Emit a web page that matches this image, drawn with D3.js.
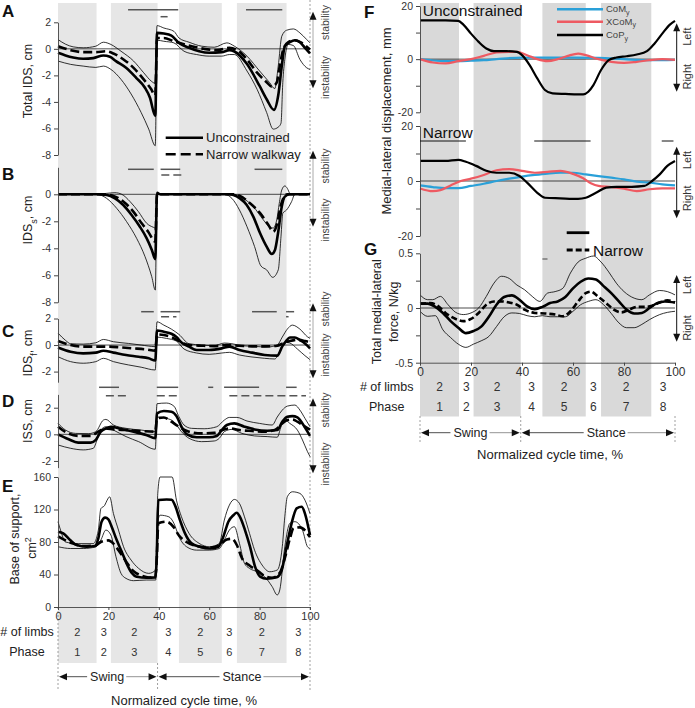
<!DOCTYPE html>
<html>
<head>
<meta charset="utf-8">
<script src="https://cdn.jsdelivr.net/npm/d3@7"></script>
<style>
body { margin: 0; background: #fff; }
text { font-family: "Liberation Sans", Arial, sans-serif; }
</style>
</head>
<body>
<div id="vis"></div>
<script>
const W = 695, H = 708;

// phases of the cycle (%), limb counts
const phaseEdges = [0, 15.3, 21, 39.5, 48, 65, 71, 90.7, 100];
const limbCounts = [2, 3, 2, 3, 2, 3, 2, 3];
const phaseNums = [1, 2, 3, 4, 5, 6, 7, 8];
const xTicks = [0, 20, 40, 60, 80, 100];

// --- A: total IDS, cm ---
const A_unc = [[0,-0.3],[3,-0.5],[6,-0.65],[10,-0.75],[14,-0.7],[18,-0.5],[20.6,-0.6],[23,-0.93],[27,-1.43],[31,-2.18],[34.5,-2.93],[36.5,-3.68],[38.6,-5.05],[39.3,1.2],[42,1.15],[45,1.0],[48,0.45],[52,0.08],[56,-0.18],[60,-0.3],[65,-0.25],[68,-0.1],[70,-0.2],[75,-1.15],[80,-2.8],[82.8,-3.8],[85.7,-4.6],[87.4,-3.5],[88.8,-1.3],[90,0.2],[92,0.5],[94,0.65],[96,0.5],[98,0.08],[100,-0.35]];
const A_nar = [[0,0.2],[5,-0.1],[10,-0.25],[15,-0.25],[19,-0.18],[22,-0.35],[26,-0.8],[30,-1.43],[34,-2.3],[37,-3.05],[38.6,-3.55],[39.3,0.82],[42,0.82],[46,0.57],[49,0.4],[53,0.2],[58,0],[63,-0.1],[68,0.07],[72.5,-0.3],[75,-0.8],[79,-1.8],[83,-2.55],[84.8,-2.85],[86.8,-2.55],[88,-1.3],[89.4,-0.05],[91.4,0.5],[94,0.65],[96.7,0.45],[100,-0.05]];
const A_upper = [[0,0.7],[3,0.35],[6,0.15],[10,0.08],[15,0.2],[18,0.5],[21,0.33],[25,-0.18],[30,-0.92],[34,-1.8],[37,-2.43],[38.5,-2.6],[39.3,1.75],[42,1.57],[46,1.32],[48,0.82],[52,0.5],[57,0.2],[62,0.12],[67,0.45],[70,0.2],[75,-0.55],[80,-1.67],[84,-2.55],[86,-3.0],[87.4,-1.3],[88.8,0.95],[90.7,1.4],[93.4,1.5],[96,1.2],[98.7,0.7],[100,0.45]];
const A_lower = [[0,-0.92],[5,-1.17],[10,-1.3],[15,-1.4],[18,-1.3],[21,-1.55],[25,-2.3],[29,-3.4],[33,-4.8],[36,-6.05],[38.6,-7.3],[39.3,0.65],[42,0.57],[46,0.45],[50,-0.18],[55,-0.43],[60,-0.55],[65,-0.55],[68,-0.43],[70,-0.43],[75,-1.67],[79,-3.05],[82.8,-4.8],[85.4,-6.05],[87.4,-5.9],[88.5,-5.6],[89.2,-2.55],[90,-0.8],[91.4,0.33],[93.4,0.25],[96,-0.8],[98.7,-1.43],[100,-1.55]];

// --- B: IDS_s, cm ---
const B_unc = [[0,0],[15,0],[19.3,-0.05],[22.6,-0.3],[25.9,-0.79],[29.2,-1.53],[32.5,-2.4],[35.2,-3.26],[37.2,-4.1],[38.6,-4.8],[39.3,0.12],[40.5,0],[68,0],[69.6,-0.05],[72.2,-0.3],[74.9,-0.79],[77.5,-1.65],[80.2,-2.89],[82.8,-3.88],[84.8,-4.42],[86.1,-4.12],[87.4,-2.77],[88.8,-0.91],[90,-0.17],[92,0],[100,0]];
const B_nar = [[0,0],[17,0],[22,-0.12],[25.9,-0.54],[29.9,-1.28],[33.2,-2.15],[35.8,-2.77],[38.6,-3.5],[39.3,0],[70,0],[72.2,-0.12],[76.2,-0.67],[80.2,-1.4],[83.5,-2.27],[85.4,-2.77],[87,-2.15],[88.3,-0.91],[89.4,-0.3],[91,0],[100,0]];
const B_upper = [[0,0],[15,0],[19.3,0.07],[22.6,0.12],[25.3,0],[28.6,-0.54],[31.9,-1.28],[35.2,-2.15],[37.8,-2.44],[38.7,-2.5],[39.3,0],[70,0],[73.5,-0.3],[77.5,-0.91],[81.5,-1.9],[84.1,-2.44],[85.4,-2.5],[86.8,-1.9],[87.8,-0.67],[88.8,0.32],[90,0.62],[91,0.44],[92,0.07],[93,0],[100,0]];
const B_lower = [[0,0],[15.3,0],[19.3,-0.3],[23.3,-1.04],[27.2,-2.02],[31.2,-3.26],[34.5,-4.6],[37.2,-6.1],[38.6,-7.09],[39.3,0],[66,0],[69,-0.3],[72,-1.16],[75,-2.4],[78,-3.87],[80.5,-5.3],[82.8,-5.6],[85.2,-6.15],[87.4,-5.6],[88.5,-3.1],[89.2,-1.4],[90.7,-1.16],[92.7,-0.54],[94,0],[100,0]];

// --- C: IDS_f, cm ---
const C_unc = [[0,-0.18],[5,-0.5],[10,-0.63],[15,-0.57],[18,-0.43],[22,-0.57],[27,-0.75],[32,-0.88],[36,-1.0],[38.6,-1.17],[39.3,1.1],[42,1.0],[45,0.85],[47,0.6],[49,0.2],[52,-0.12],[55,-0.37],[60,-0.37],[65,-0.25],[68,-0.12],[72,-0.37],[77,-0.57],[82,-0.75],[87,-0.8],[89,-0.1],[90.5,0.3],[92,0.57],[94,0.57],[96,0.37],[98,0.12],[100,-0.25]];
const C_nar = [[0,0.3],[5,0],[10,-0.12],[15,-0.12],[20,-0.12],[25,-0.18],[30,-0.25],[35,-0.33],[38.6,-0.43],[39.3,0.8],[42,0.75],[45,0.6],[48,0.3],[52,0],[57,-0.05],[62,-0.08],[67,0],[72,-0.05],[77,-0.1],[82,-0.1],[87,-0.05],[89,0.1],[92,0.3],[95,0.4],[98,0.3],[100,0.2]];
const C_upper = [[0,0.9],[3,0.35],[5,0.1],[10,0.07],[15,0.17],[18,0.42],[22,0.25],[28,0.12],[33,0],[38.6,-0.12],[39.3,1.75],[42,1.5],[45,1.2],[48,0.8],[52,0.1],[57,0],[62,-0.05],[66,0.15],[69,0.1],[73,-0.05],[78,-0.1],[83,-0.15],[87,0],[89,0.6],[91,1.2],[93,1.5],[96,1.2],[99,0.62],[100,0.5]];
const C_lower = [[0,-0.88],[5,-1.25],[10,-1.37],[15,-1.25],[18,-1.0],[22,-1.25],[28,-1.5],[33,-1.67],[38.6,-1.88],[39.3,0.6],[43,0.5],[47,0.3],[50,-0.3],[55,-0.6],[60,-0.7],[65,-0.6],[68,-0.55],[72,-0.75],[77,-0.9],[82,-1.0],[86,-1.05],[88,-0.5],[90,0.2],[92,0.15],[95,-0.3],[98,-0.8],[100,-1.1]];

// --- D: ISS, cm ---
const D_unc = [[0,0],[4,-0.35],[8,-0.62],[13,-0.62],[15,-0.42],[17,0.2],[19,0.45],[21,0.57],[25,0.4],[30,0.2],[35,-0.05],[38.6,-0.3],[39.3,1.57],[42,1.75],[45,1.7],[47,1.37],[49,0.57],[51,0.02],[55,-0.22],[60,-0.22],[63,-0.12],[65,0.32],[67,0.7],[70,0.82],[74,0.57],[78,0.37],[83,0.27],[87,0.32],[89,0.95],[91,1.32],[93,1.37],[95,1.27],[97,0.82],[99,0.2],[100,-0.12]];
const D_nar = [[0,0.57],[4,0.07],[8,-0.12],[13,-0.12],[16,0.2],[19,0.45],[22,0.37],[27,0.32],[33,0.25],[38.6,0.2],[39.3,1.2],[42,1.27],[45,0.95],[48,0.57],[52,0.2],[57,0.07],[62,0.12],[65,0.3],[68,0.45],[72,0.32],[77,0.25],[82,0.2],[86,0.32],[89,0.82],[91,1.07],[93,1.12],[95,0.95],[97,0.7],[100,0.35]];
const D_upper = [[0,0.82],[3,0.32],[7,0.07],[12,0.05],[15,0.2],[18,1.07],[19,1.12],[22,0.7],[27,0.45],[33,0.32],[38.6,0.2],[39.3,2.3],[43,2.35],[46,2.12],[48,1.32],[50,0.7],[53,0.45],[58,0.42],[63,0.57],[66,1.07],[68,1.27],[71,1.27],[75,1.0],[80,0.82],[85,0.7],[87,1.3],[89,1.82],[91,2.12],[94,2.2],[96,1.82],[98,1.2],[100,0.57]];
const D_lower = [[0,-0.8],[5,-1.05],[10,-1.17],[14,-1.05],[15.5,-0.42],[17,0.32],[19,0.57],[22,0.32],[27,-0.17],[32,-0.55],[38.6,-1.12],[39.3,1.3],[43,1.2],[46,0.95],[49,0.2],[52,-0.3],[57,-0.55],[62,-0.5],[64,-0.3],[66,0.2],[69,0.37],[73,0.07],[78,-0.12],[83,-0.17],[87,-0.22],[88.5,0.57],[90,1.07],[92,0.82],[95,0.32],[97,-0.42],[99,-1.3],[100,-1.67]];

// --- E: base of support, cm2 ---
const E_unc = [[0,92.6],[2.1,90.6],[4.8,82.4],[7.4,76.2],[11.4,74.2],[14.7,75],[16,84.4],[17.3,105],[18.7,110],[20,107.8],[21.3,98.8],[23.3,82.4],[25.3,68],[27.2,53.7],[29.2,42.2],[31.2,37.3],[35.2,36],[38.6,36.5],[39.1,53.7],[39.8,131.6],[43.1,132.4],[45.1,132],[46.4,125.4],[48.4,107],[50.4,90.6],[53,78.3],[56.3,74.2],[60.3,72],[63.6,74.2],[65.6,86.5],[67.6,105],[69.6,113],[70.9,116],[72.2,111],[74.2,94.7],[76.2,74.2],[78.2,49.6],[80.2,37.3],[82.8,34.8],[86.8,36.5],[88.8,45.5],[90.7,74.2],[92.7,103],[94.7,121.3],[96.7,123.4],[98,115],[100,88.5]];
const E_nar = [[0,87],[3,82],[6,78],[10,75],[15,76],[17,80],[20,82],[22,78],[24,70],[27,56],[30,44],[32,40],[35,37],[38.6,36],[39.2,60],[39.8,103],[43,105],[46,98],[48,88],[51,80],[55,75],[60,73],[64,76],[67,83],[69,84],[71,76],[73,60],[76,51],[79.5,44],[82,38],[85,36],[88,42],[90,60],[92,84],[93.5,97],[96,98],[100,86]];
const E_upper = [[0,105],[1,94.7],[3,80],[8,78],[14,78],[16,94.7],[17,121],[18.5,125],[19.5,131.5],[20.5,135.6],[22,115],[24,94.7],[26,74.2],[29,57.8],[32,47.5],[36,41.4],[38.8,45.5],[39.6,140],[40.5,160],[45.3,160],[47,131.5],[49,111],[52,90.6],[56,78.3],[60,74.2],[64,78],[66,107],[68,125.4],[70,132.4],[72,127.5],[74,111],[76,90.6],[78,70],[81,51.6],[84,43.4],[87,45.5],[89,74.2],[90,111],[91,135.7],[93,141.8],[96,139.8],[98,131.5],[100,115]];
const E_lower = [[0,74.2],[5,72],[10,72],[15,74],[17,82.4],[19,94.7],[21,88.5],[23,61.9],[25,41.4],[27,35.2],[30,32.4],[35,33.2],[38.8,33.2],[39.5,103],[40.5,113],[44,111],[46,103],[48,86.5],[51,74.2],[55,70],[60,70],[64,72],[66,82.4],[68,94.7],[70,98.8],[72,78.3],[74,53.7],[76,47.5],[79,43.4],[82,37.3],[85,25],[87,14.8],[88,20.9],[90,74],[92,103],[94,105],[97,94.7],[99,74.2],[100,72]];

// significance bars (% of cycle): first row solid, second row dashed
const sigA_u = [[27.8,47.7],[74.6,89]];
const sigA_n = [[40.7,43.5]];
const sigB_u = [[27.8,38],[40.7,48.5],[78,89]];
const sigB_n = [[41,50.4]];
const sigC_u = [[33,38],[40.7,48.5],[77,86.8],[90.5,93.7]];
const sigC_n = [[40.9,47],[90.5,91.5]];
const sigD_u = [[16.3,24.2],[39.2,47.7],[59.6,61.6],[65.9,79.8],[90.5,94.7]];
const sigD_n = [[19,28],[39.2,48.4],[68,98.4]];

// --- F: medial-lateral displacement, mm ---
const F_u_cop = [[0,14.6],[10,14.6],[15,14.4],[17,13],[20,9.6],[23,6.5],[26,4],[29,3],[34,3],[38,2.75],[40,1.5],[43,-2.25],[46,-7.25],[49,-11.6],[52,-12.9],[57,-13.1],[62,-13.25],[64,-13.25],[66,-12.25],[68,-9.75],[71,-4.1],[74,-0.4],[77,0.6],[81,1.1],[85,1.75],[89,3],[92,5.9],[95,9.6],[98,13],[100,14.4]];
const F_u_xcom = [[0,0],[5,-1.25],[10,-1.6],[15,-0.75],[20,0],[25,1.25],[30,2.5],[35,2.75],[38,2.75],[42,1.5],[46,0],[50,-0.75],[54,0],[58,1.25],[62,2.1],[65,1.5],[70,0],[75,-1],[80,-1.4],[85,-1],[90,-0.4],[95,0],[100,-0.25]];
const F_u_com = [[0,0],[5,-0.5],[10,-0.75],[15,-0.75],[20,-0.6],[25,-0.4],[30,0],[40,0.6],[50,0.6],[60,0.6],[70,0.5],[80,0],[90,-0.4],[100,-0.25]];
const F_n_cop = [[0,7.3],[10,7.3],[15,7.7],[18,7],[22,5.5],[26,3.7],[30,3],[35,3],[39,1.8],[42,-0.6],[46,-4.3],[49,-6.1],[55,-6.3],[62,-6.5],[65,-6.1],[69,-4.3],[73,-2.4],[77,-2.1],[83,-2.1],[88,-1.8],[91,0],[94,2.4],[97,5.5],[100,7.3]];
const F_n_xcom = [[0,-2.7],[5,-3.7],[8,-3.3],[12,-1.6],[16,0],[20,0.85],[25,2.2],[30,3.9],[35,4.3],[40,3.7],[45,3],[50,3.3],[55,3.7],[60,2.6],[64,1.0],[67,-0.8],[70,-1.8],[75,-2.2],[80,-2.8],[85,-3.7],[90,-3],[95,-2.7],[100,-2.7]];
const F_n_com = [[0,-1.6],[5,-2.2],[10,-2.6],[15,-2.6],[20,-1.8],[25,-1],[30,0],[35,0.85],[40,1.6],[45,2.2],[50,2.7],[55,3],[60,3],[65,2.4],[70,1.8],[75,1.2],[80,0.6],[85,-0.25],[90,-0.6],[95,-1.2],[100,-1.6]];
const sigF_n = [[0,18],[44.8,66.9],[94.8,99.4]];

// --- G: total medial-lateral force, N/kg ---
const G_unc = [[0,0.04],[3,0.04],[6,0.01],[9,-0.045],[12,-0.12],[15,-0.18],[18,-0.23],[21,-0.21],[24,-0.17],[27,-0.08],[30,0.03],[33,0.1],[36,0.115],[39,0.076],[42,0.015],[45,-0.01],[48,0.01],[51,0.045],[54,0.06],[57,0.1],[60,0.18],[63,0.24],[66,0.27],[69,0.26],[72,0.2],[75,0.136],[78,0.06],[81,-0.015],[84,-0.05],[87,-0.045],[90,0],[93,0.045],[96,0.06],[100,0.05]];
const G_nar = [[0,0.04],[4,0.045],[7,0.02],[10,-0.045],[14,-0.1],[17,-0.12],[20,-0.1],[23,-0.045],[26,0.03],[29,0.06],[32,0.06],[35,0.05],[38,0.03],[41,-0.015],[45,-0.045],[49,-0.05],[53,-0.06],[56,-0.076],[59,-0.03],[62,0.06],[65,0.136],[67,0.15],[70,0.1],[73,0.045],[76,-0.015],[79,-0.04],[82,-0.015],[85,0.01],[88,0.01],[91,0.02],[94,0.05],[97,0.07],[100,0.05]];
const G_upper = [[0,0.12],[3,0.076],[5,0.076],[8,0.106],[11,0.03],[14,-0.04],[17,-0.06],[20,-0.045],[23,0],[26,0.106],[29,0.227],[32,0.29],[35,0.27],[38,0.21],[41,0.167],[44,0.106],[47,0.06],[50,0.136],[53,0.15],[56,0.18],[59,0.32],[62,0.42],[65,0.455],[68,0.475],[71,0.42],[74,0.33],[77,0.227],[80,0.15],[84,0.09],[87,0.076],[90,0.12],[94,0.16],[97,0.15],[100,0.12]];
const G_lower = [[0,-0.03],[3,-0.076],[6,-0.07],[9,-0.2],[12,-0.27],[15,-0.33],[18,-0.36],[21,-0.33],[24,-0.3],[27,-0.26],[30,-0.17],[33,-0.08],[36,-0.045],[39,-0.05],[42,-0.07],[45,-0.08],[48,-0.07],[51,-0.08],[54,-0.08],[57,-0.08],[60,-0.03],[63,0.03],[66,0.06],[69,0.076],[72,0.03],[75,-0.05],[78,-0.136],[81,-0.18],[84,-0.18],[87,-0.15],[90,-0.106],[94,-0.06],[97,-0.04],[100,-0.03]];
const sigG = [[48,50]];

// --- SVG ---
const svg = d3.select("#vis").append("svg").attr("width", W).attr("height", H);

const xL = d3.scaleLinear().domain([0, 100]).range([58, 310]);
const xR = d3.scaleLinear().domain([0, 100]).range([420, 675]);

const BLUE = "#2aa0d8", RED = "#ee5a62";

// grey phase bands
[0, 2, 4, 6].forEach(i => {
  svg.append("rect").attr("x", xL(phaseEdges[i])).attr("y", 3)
    .attr("width", xL(phaseEdges[i + 1]) - xL(phaseEdges[i])).attr("height", 660)
    .attr("fill", "#e6e6e6");
  svg.append("rect").attr("x", xR(phaseEdges[i])).attr("y", 3)
    .attr("width", xR(phaseEdges[i + 1]) - xR(phaseEdges[i])).attr("height", 413.5)
    .attr("fill", "#d9d9d9");
});

function dotted(x, y1, y2) {
  svg.append("line").attr("x1", x).attr("x2", x).attr("y1", y1).attr("y2", y2)
    .attr("stroke", "#888").attr("stroke-width", 0.8).attr("stroke-dasharray", "2,2");
}

function curve(x, y, data, style) {
  const line = d3.line().x(d => x(d[0])).y(d => y(d[1])).curve(d3.curveMonotoneX);
  const p = svg.append("path").attr("d", line(data)).attr("fill", "none")
    .attr("stroke", style.color || "#000")
    .attr("stroke-width", style.w).attr("stroke-linejoin", "round");
  if (style.dash) p.attr("stroke-dasharray", style.dash);
}

function yAxis(x, y, ticks, labelled) {
  const ax = d3.axisLeft(y).tickValues(ticks).tickSize(4).tickSizeOuter(0).tickPadding(3)
    .tickFormat(d => labelled.includes(d) ? String(d) : "");
  const g = svg.append("g").attr("transform", `translate(${x},0)`).call(ax);
  g.select(".domain").attr("stroke", "#444").attr("stroke-width", 0.9);
  g.selectAll(".tick line").attr("stroke", "#444");
  g.selectAll("text").attr("font-size", 10.5).attr("fill", "#333")
    .style("font-family", '"Liberation Sans", Arial, sans-serif');
}

function xAxis(x, yPos, fontSize) {
  const ax = d3.axisBottom(x).tickValues(xTicks).tickSize(3).tickSizeOuter(0).tickPadding(2)
    .tickFormat(d => String(d));
  const g = svg.append("g").attr("transform", `translate(0,${yPos})`).call(ax);
  g.select(".domain").attr("stroke", "#444").attr("stroke-width", 0.9);
  g.selectAll(".tick line").attr("stroke", "#444");
  g.selectAll("text").attr("font-size", fontSize).attr("fill", "#333")
    .style("font-family", '"Liberation Sans", Arial, sans-serif');
}

function zeroLine(x, y, yv) {
  svg.append("line").attr("x1", x(0)).attr("x2", x(100)).attr("y1", y(yv)).attr("y2", y(yv))
    .attr("stroke", "#000").attr("stroke-width", 0.7);
}

function rotLabel(x, y, parts, size, color) {
  const t = svg.append("text").attr("transform", `translate(${x},${y}) rotate(-90)`)
    .attr("text-anchor", "middle").attr("dy", "0.35em").attr("font-size", size)
    .attr("fill", color || "#222");
  parts.forEach(p => {
    const s = t.append("tspan").text(p.t);
    if (p.sub) s.attr("baseline-shift", "sub").attr("font-size", size * 0.72);
    if (p.sup) s.attr("baseline-shift", "super").attr("font-size", size * 0.72);
  });
}

function letter(x, y, s) {
  svg.append("text").attr("x", x).attr("y", y).attr("font-size", 17)
    .attr("font-weight", "bold").attr("fill", "#111").text(s);
}

function sigBars(x, bars, yPos, dashed, color, w) {
  bars.forEach(b => {
    const l = svg.append("line").attr("x1", x(b[0])).attr("x2", x(b[1]))
      .attr("y1", yPos).attr("y2", yPos)
      .attr("stroke", color || "#555").attr("stroke-width", w || 1.5);
    if (dashed) l.attr("stroke-dasharray", "8,4");
  });
}

function vArrow(x, top, bot, lineColor) {
  svg.append("line").attr("x1", x).attr("x2", x).attr("y1", top + 6).attr("y2", bot - 6)
    .attr("stroke", lineColor).attr("stroke-width", 1);
  svg.append("path").attr("d", `M${x},${top}L${x - 3.5},${top + 8}L${x + 3.5},${top + 8}Z`).attr("fill", "#111");
  svg.append("path").attr("d", `M${x},${bot}L${x - 3.5},${bot - 8}L${x + 3.5},${bot - 8}Z`).attr("fill", "#111");
}

// ---------- left column ----------
dotted(xL(100), 0, 690);
dotted(xL(0), 607, 690);
dotted(xL(39.5), 663, 690);

const thin = { w: 0.8 }, unc = { w: 2.6 }, nar = { w: 2.6, dash: "9,4" };

const leftPanels = [
  { L: "A", LY: 17, y: d3.scaleLinear().domain([-8, 2]).range([155, 22.3]),
    ticks: [-8, -6, -4, -2, 0, 2], labels: [-8, -6, -4, -2, 0, 2],
    curves: [[A_upper, thin], [A_lower, thin], [A_nar, nar], [A_unc, unc]],
    ylab: [{ t: "Total IDS, cm" }], ylabY: 81, sigU: sigA_u, sigN: sigA_n, sigY: [9.7, 16.7],
    arrow: [11.7, 88.3, 22.5, 77.5], zero: true },
  { L: "B", LY: 180, y: d3.scaleLinear().domain([-8, 2]).range([302.3, 167.3]),
    ticks: [-8, -6, -4, -2, 0], labels: [-8, -6, -4, -2, 0],
    curves: [[B_upper, thin], [B_lower, thin], [B_nar, nar], [B_unc, unc]],
    ylab: [{ t: "IDS" }, { t: "s", sub: true }, { t: ", cm" }], ylabY: 220, sigU: sigB_u, sigN: sigB_n, sigY: [169.3, 175],
    arrow: [150.7, 226.7, 166, 220], zero: true },
  { L: "C", LY: 337, y: d3.scaleLinear().domain([-2.8, 2]).range([382.2, 318.5]),
    ticks: [-2, 0, 2], labels: [-2, 0, 2],
    curves: [[C_upper, thin], [C_lower, thin], [C_nar, nar], [C_unc, unc]],
    ylab: [{ t: "IDS" }, { t: "f", sub: true }, { t: ", cm" }], ylabY: 353, sigU: sigC_u, sigN: sigC_n, sigY: [311.7, 316.7],
    arrow: [303.3, 378.3, 309, 355], zero: true },
  { L: "D", LY: 407, y: d3.scaleLinear().domain([-2.5, 3]).range([467.6, 394.4]),
    ticks: [-2, 0, 2], labels: [-2, 0, 2],
    curves: [[D_upper, thin], [D_lower, thin], [D_nar, nar], [D_unc, unc]],
    ylab: [{ t: "ISS, cm" }], ylabY: 421, sigU: sigD_u, sigN: sigD_n, sigY: [387.3, 395.7],
    arrow: [398.3, 473.3, 410, 464], zero: true },
  { L: "E", LY: 492, y: d3.scaleLinear().domain([0, 160]).range([607, 477]),
    ticks: [0, 40, 80, 120, 160], labels: [0, 40, 80, 120, 160],
    curves: [[E_upper, thin], [E_lower, thin], [E_nar, nar], [E_unc, unc]],
    ylab: null, zero: false }
];

leftPanels.forEach(p => {
  if (p.zero) zeroLine(xL, p.y, 0);
  p.curves.forEach(c => curve(xL, p.y, c[0], c[1]));
  yAxis(58, p.y, p.ticks, p.labels);
  letter(2, p.LY, p.L);
  if (p.ylab) rotLabel(28, p.ylabY, p.ylab, 12.5);
  if (p.sigU) {
    sigBars(xL, p.sigU, p.sigY[0], false);
    sigBars(xL, p.sigN, p.sigY[1], true);
  }
  if (p.arrow) {
    vArrow(313, p.arrow[0], p.arrow[1], "#aaa");
    rotLabel(325, p.arrow[2], [{ t: "stability" }], 10.5, "#444");
    rotLabel(325, p.arrow[3], [{ t: "instability" }], 10.5, "#444");
  }
});

// E y label (two lines)
rotLabel(15, 539, [{ t: "Base of support," }], 12.5);
rotLabel(32, 548, [{ t: "cm" }, { t: "2", sup: true }], 12.5);

xAxis(xL, 607, 11);

// legend in A
svg.append("line").attr("x1", 165.7).attr("x2", 203).attr("y1", 137.7).attr("y2", 137.7)
  .attr("stroke", "#000").attr("stroke-width", 2.6);
svg.append("line").attr("x1", 165.7).attr("x2", 203).attr("y1", 154.3).attr("y2", 154.3)
  .attr("stroke", "#000").attr("stroke-width", 2.6).attr("stroke-dasharray", "10,5");
svg.append("text").attr("x", 206).attr("y", 142.3).attr("font-size", 13).attr("fill", "#222").text("Unconstrained");
svg.append("text").attr("x", 206).attr("y", 159).attr("font-size", 13).attr("fill", "#222").text("Narrow walkway");

// table rows under the plots
function phaseTable(x, limbsY, phaseY, labelX, fs) {
  svg.append("text").attr("x", labelX).attr("y", limbsY).attr("dy", "0.35em")
    .attr("text-anchor", "middle").attr("font-size", 12.5).attr("fill", "#222").text("# of limbs");
  svg.append("text").attr("x", labelX).attr("y", phaseY).attr("dy", "0.35em")
    .attr("text-anchor", "middle").attr("font-size", 12.5).attr("fill", "#222").text("Phase");
  phaseNums.forEach((n, i) => {
    const cx = x((phaseEdges[i] + phaseEdges[i + 1]) / 2);
    svg.append("text").attr("x", cx).attr("y", limbsY).attr("dy", "0.35em")
      .attr("text-anchor", "middle").attr("font-size", fs).attr("fill", "#333").text(limbCounts[i]);
    svg.append("text").attr("x", cx).attr("y", phaseY).attr("dy", "0.35em")
      .attr("text-anchor", "middle").attr("font-size", fs).attr("fill", "#333").text(n);
  });
}

function spanArrow(x, a, b, mid, yPos, label) {
  const t = svg.append("text").attr("x", x(mid)).attr("y", yPos).attr("dy", "0.35em")
    .attr("text-anchor", "middle").attr("font-size", 12.5).attr("fill", "#222").text(label);
  const bb = t.node().getBBox();
  const x0 = x(a) + 1, x1 = x(b) - 1;
  svg.append("line").attr("x1", x0 + 6).attr("x2", bb.x - 3).attr("y1", yPos).attr("y2", yPos)
    .attr("stroke", "#222").attr("stroke-width", 0.8);
  svg.append("line").attr("x1", bb.x + bb.width + 2).attr("x2", x1 - 6).attr("y1", yPos).attr("y2", yPos)
    .attr("stroke", "#777").attr("stroke-width", 0.8);
  svg.append("path").attr("d", `M${x0},${yPos}L${x0 + 8},${yPos - 3.5}L${x0 + 8},${yPos + 3.5}Z`).attr("fill", "#111");
  svg.append("path").attr("d", `M${x1},${yPos}L${x1 - 8},${yPos - 3.5}L${x1 - 8},${yPos + 3.5}Z`).attr("fill", "#111");
}

phaseTable(xL, 631.7, 651.7, 27, 11);
spanArrow(xL, 0, 39.5, 19.5, 676.7, "Swing");
spanArrow(xL, 39.5, 100, 73, 676.7, "Stance");
svg.append("text").attr("x", 184).attr("y", 700).attr("dy", "0.35em").attr("text-anchor", "middle")
  .attr("font-size", 13).attr("fill", "#222").text("Normalized cycle time, %");

// ---------- right column ----------
const yFu = d3.scaleLinear().domain([-20, 20]).range([112.3, 6]);
const yFn = d3.scaleLinear().domain([-20, 20]).range([236, 126]);
const yG = d3.scaleLinear().domain([-0.5, 0.5]).range([362.7, 253.3]);

zeroLine(xR, yFu, 0);
zeroLine(xR, yFn, 0);
zeroLine(xR, yG, 0);

curve(xR, yFu, F_u_com, { w: 2.2, color: BLUE });
curve(xR, yFu, F_u_xcom, { w: 2.2, color: RED });
curve(xR, yFu, F_u_cop, { w: 2.2, color: "#000" });
curve(xR, yFn, F_n_com, { w: 2.2, color: BLUE });
curve(xR, yFn, F_n_xcom, { w: 2.2, color: RED });
curve(xR, yFn, F_n_cop, { w: 2.2, color: "#000" });

curve(xR, yG, G_upper, thin);
curve(xR, yG, G_lower, thin);
curve(xR, yG, G_nar, { w: 2.6, dash: "6,3" });
curve(xR, yG, G_unc, unc);

yAxis(420, yFu, [-20, -10, 0, 10, 20], [-20, 0, 20]);
yAxis(420, yFn, [-20, -10, 0, 10, 20], [-20, 0, 20]);
yAxis(420, yG, [-0.5, -0.25, 0, 0.25, 0.5], [-0.5, 0, 0.5]);
xAxis(xR, 362.7, 12);

sigBars(xR, sigF_n, 141, false, "#111", 1);
sigBars(xR, sigG, 259, false, "#777", 1.5);

letter(364, 18, "F");
letter(364, 255, "G");

svg.append("text").attr("x", 422.7).attr("y", 16).attr("font-size", 15.5).attr("fill", "#111").text("Unconstrained");
svg.append("text").attr("x", 422.7).attr("y", 138).attr("font-size", 15.5).attr("fill", "#111").text("Narrow");

// F legend
const fLegend = [{ c: BLUE, t: "CoM", y: 9.3 }, { c: RED, t: "XCoM", y: 21.7 }, { c: "#000", t: "CoP", y: 35 }];
fLegend.forEach(d => {
  svg.append("line").attr("x1", 557).attr("x2", 603).attr("y1", d.y).attr("y2", d.y)
    .attr("stroke", d.c).attr("stroke-width", 2.4);
  const t = svg.append("text").attr("x", 606).attr("y", d.y + 3).attr("font-size", 9.5).attr("fill", "#444");
  t.append("tspan").text(d.t);
  t.append("tspan").text("y").attr("dy", 2.5).attr("font-size", 7);
});

// G legend
svg.append("line").attr("x1", 566.7).attr("x2", 589.3).attr("y1", 232.7).attr("y2", 232.7)
  .attr("stroke", "#000").attr("stroke-width", 2.8);
svg.append("line").attr("x1", 566.7).attr("x2", 589.3).attr("y1", 250).attr("y2", 250)
  .attr("stroke", "#000").attr("stroke-width", 2.8).attr("stroke-dasharray", "6,3");
svg.append("text").attr("x", 593).attr("y", 255.5).attr("font-size", 15.5).attr("fill", "#111").text("Narrow");

// Left / Right arrows
[[23.3, 91.7, 36.7, 76.7], [146.7, 218.3, 160, 198.3], [275, 341.7, 285, 328]].forEach(a => {
  vArrow(676.7, a[0], a[1], "#111");
  rotLabel(687, a[2], [{ t: "Left" }], 11, "#333");
  rotLabel(687, a[3], [{ t: "Right" }], 11, "#333");
});

rotLabel(386.7, 121, [{ t: "Medial-lateral displacement, mm" }], 13);
rotLabel(376.7, 311.7, [{ t: "Total medial-lateral" }], 12.5);
rotLabel(393.3, 311.7, [{ t: "force, N/kg" }], 12.5);

dotted(xR(0), 416, 442);
dotted(xR(39.5), 416, 442);
dotted(xR(100), 416, 442);

phaseTable(xR, 386.7, 406.7, 386.7, 12);
spanArrow(xR, 0, 39.5, 19.8, 432.7, "Swing");
spanArrow(xR, 39.5, 100, 73, 432.7, "Stance");
svg.append("text").attr("x", 550).attr("y", 454).attr("dy", "0.35em").attr("text-anchor", "middle")
  .attr("font-size", 13).attr("fill", "#222").text("Normalized cycle time, %");
</script>
</body>
</html>
